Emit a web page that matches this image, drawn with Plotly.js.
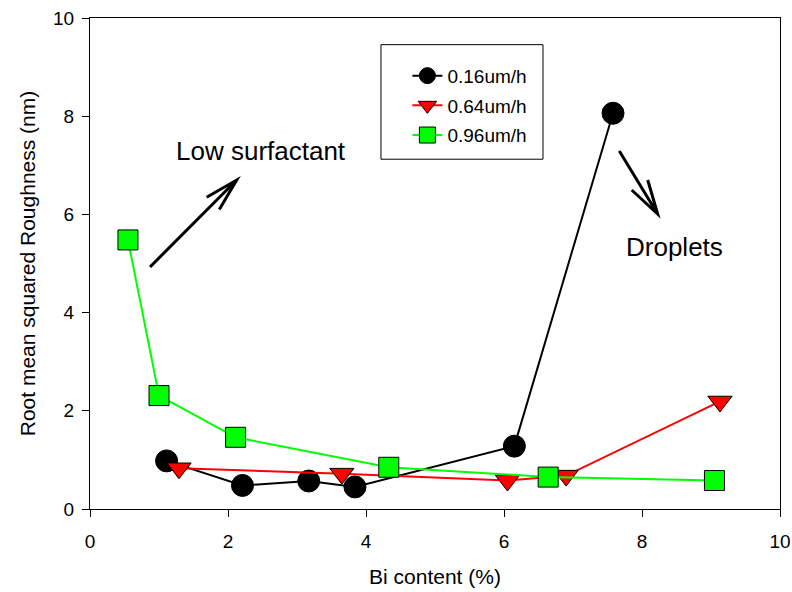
<!DOCTYPE html>
<html>
<head>
<meta charset="utf-8">
<script src="https://cdn.plot.ly/plotly-3.0.1.min.js"></script>
<style>html,body{margin:0;padding:0;background:#fff;}#chart{width:792px;height:592px;}</style>
</head>
<body>
<div id="chart"></div>
<script>
// Series: Bi content (%) vs RMS roughness (nm)
const names = ["0.16um/h", "0.64um/h", "0.96um/h"];
const x016 = [1.11, 2.21, 3.17, 3.84, 6.15, 7.58];
const y016 = [0.98, 0.48, 0.57, 0.45, 1.28, 8.06];
const x064 = [1.29, 3.65, 6.05, 6.90, 9.13];
const y064 = [0.83, 0.72, 0.58, 0.68, 2.19];
const x096 = [0.55, 1.00, 2.11, 4.33, 6.64, 9.05];
const y096 = [5.48, 2.31, 1.46, 0.85, 0.65, 0.58];
const xTicks = [0, 2, 4, 6, 8, 10];
const yTicks = [0, 2, 4, 6, 8, 10];

const FONT = "Arial, 'Liberation Sans', sans-serif";

const traces = [
  {x: x016, y: y016, name: names[0], legendgroup: "a", mode: "lines+markers", type: "scatter",
   line: {color: "#000000", width: 2},
   marker: {symbol: "circle", size: 22, color: "#000000", line: {color: "#000000", width: 1}}},
  {x: x064, y: y064, name: names[1], legendgroup: "b", mode: "lines+markers", type: "scatter",
   line: {color: "#ff0000", width: 2},
   marker: {symbol: "triangle-down", size: 21, color: "#ff0000", line: {color: "#000000", width: 1}}},
  {x: x096, y: y096, name: names[2], legendgroup: "c", mode: "lines+markers", type: "scatter",
   line: {color: "#00ff00", width: 2},
   marker: {symbol: "square", size: 20, color: "#00ff00", line: {color: "#000000", width: 1}}}
];

const layout = {
  width: 792, height: 592,
  margin: {l: 90, r: 12, t: 18, b: 83},
  paper_bgcolor: "#ffffff", plot_bgcolor: "#ffffff",
  font: {family: FONT, color: "#000000", size: 19},
  showlegend: true,
  legend: {
    x: 0.46, y: 0.921, xanchor: "left", yanchor: "top",
    bgcolor: "rgba(0,0,0,0)", borderwidth: 0,
    font: {family: FONT, size: 19, color: "#000000"},
    traceorder: "grouped", tracegroupgap: 2
  },
  xaxis: {
    range: [0, 10], tickvals: xTicks, ticktext: xTicks.map(String),
    showgrid: false, zeroline: false, showline: true, mirror: true,
    linecolor: "#000000", linewidth: 1, ticks: "outside", ticklen: 7, tickcolor: "#000000",
    tickfont: {family: FONT, size: 19}, ticklabelstandoff: 8,
    title: {text: "Bi content (%)", font: {family: FONT, size: 21}, standoff: 18}
  },
  yaxis: {
    range: [0, 10], tickvals: yTicks, ticktext: yTicks.map(String),
    showgrid: false, zeroline: false, showline: true, mirror: true,
    linecolor: "#000000", linewidth: 1, ticks: "outside", ticklen: 7, tickcolor: "#000000",
    tickfont: {family: FONT, size: 19}, ticklabelstandoff: 4,
    title: {text: "Root mean squared Roughness (nm)", font: {family: FONT, size: 21}, standoff: 11}
  },
  shapes: [
    // legend frame
    {type: "rect", xref: "paper", yref: "paper", x0: 0.4217, x1: 0.6565, y0: 0.7124, y1: 0.9457,
     line: {color: "#000000", width: 1}, fillcolor: "rgba(0,0,0,0)"},
    // "Low surfactant" arrow
    {type: "path", xref: "x", yref: "y",
     path: "M0.87,4.93 L2.126,6.70 M1.691,6.35 L2.126,6.70 L1.874,6.10",
     line: {color: "#000000", width: 3}},
    // "Droplets" arrow
    {type: "path", xref: "x", yref: "y",
     path: "M7.671,7.29 L8.227,6.008 M7.851,6.497 L8.227,6.008 L8.083,6.701",
     line: {color: "#000000", width: 3}}
  ],
  annotations: [
    {text: "Low surfactant", x: 2.478, y: 7.30, xref: "x", yref: "y", showarrow: false,
     xanchor: "center", yanchor: "middle", font: {family: FONT, size: 26, color: "#000000"}},
    {text: "Droplets", x: 8.464, y: 5.33, xref: "x", yref: "y", showarrow: false,
     xanchor: "center", yanchor: "middle", font: {family: FONT, size: 26, color: "#000000"}}
  ]
};

Plotly.newPlot("chart", traces, layout, {displayModeBar: false, staticPlot: true});
</script>
</body>
</html>
